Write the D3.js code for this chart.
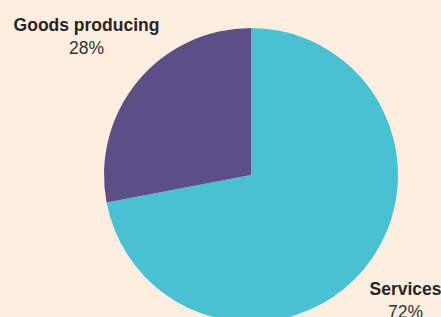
<!DOCTYPE html>
<html>
<head>
<meta charset="utf-8">
<script src="https://cdn.jsdelivr.net/npm/d3@7"></script>
<style>
  html, body { margin: 0; padding: 0; background: #fdeee0; overflow: hidden; }
</style>
</head>
<body>
<script>
width = 441
height = 317

categories = ["Services", "Goods producing"]
shares = [72, 28]
colors = ["#48c2d3", "#5b4f85"]

data = categories.map((c, i) => ({name: c, value: shares[i]}))

radius = 147
cx = 251
cy = 175

color = d3.scaleOrdinal()
  .domain(categories)
  .range(colors)

pie = d3.pie()
  .sort(null)
  .value(d => d.value)

arc = d3.arc()
  .innerRadius(0)
  .outerRadius(radius)

labelArc = d3.arc()
  .innerRadius(207)
  .outerRadius(207)

const svg = d3.select("body").append("svg")
  .attr("width", width)
  .attr("height", height)
  .style("display", "block");

svg.append("rect")
  .attr("width", width)
  .attr("height", height)
  .attr("fill", "#fdeee0");

const g = svg.append("g")
  .attr("transform", `translate(${cx},${cy})`);

const arcs = pie(data);

g.selectAll("path")
  .data(arcs)
  .join("path")
    .attr("d", arc)
    .attr("fill", d => color(d.data.name));

const labels = g.selectAll("g.label")
  .data(arcs)
  .join("g")
    .attr("class", "label")
    .attr("transform", d => {
      const [x, y] = labelArc.centroid(d);
      return `translate(${x - 5},${y})`;
    })
    .attr("text-anchor", "middle")
    .attr("font-family", "Liberation Sans, Arial, sans-serif")
    .attr("font-size", 17.5)
    .attr("fill", "#262626");

labels.append("text")
  .attr("y", -12)
  .attr("font-weight", "bold")
  .text(d => d.data.name);

labels.append("text")
  .attr("y", 11)
  .attr("fill", "#333")
  .text(d => d.data.value + "%");
</script>
</body>
</html>
